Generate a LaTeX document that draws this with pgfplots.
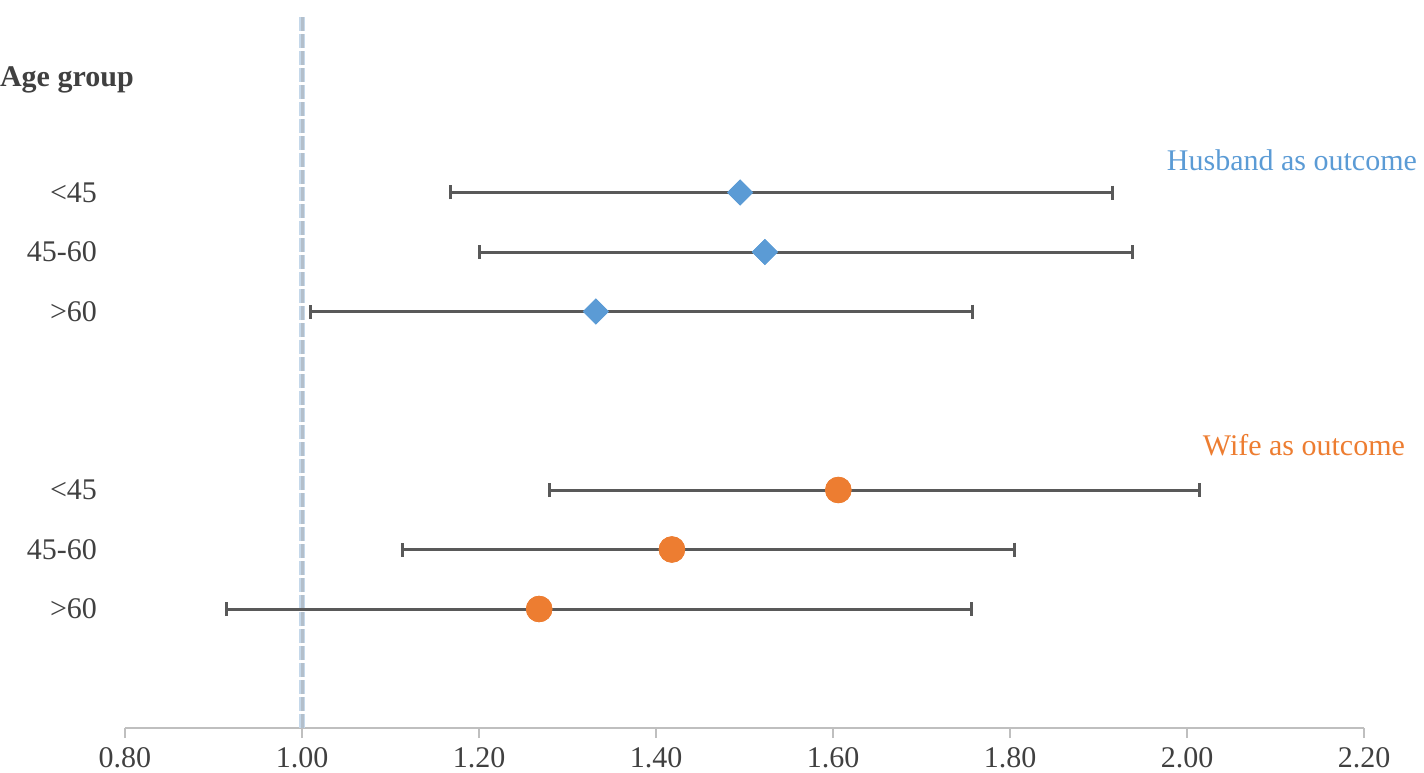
\documentclass[border=0pt]{standalone}
\usepackage{pgfplots}
\pgfplotsset{compat=1.18}
\usepackage{fontspec}
\setmainfont{Liberation Serif}
\definecolor{txt}{HTML}{404040}
\definecolor{hub}{HTML}{5B9BD5}
\definecolor{wif}{HTML}{ED7D31}
\definecolor{bar}{HTML}{595959}
\definecolor{axl}{HTML}{BFBFBF}
\definecolor{refb}{HTML}{C5D8EA}
\definecolor{refg}{HTML}{B3BFCB}
\tikzset{ylab/.style={anchor=east, text=txt, font=\fontsize{15}{18}\selectfont, xshift=-10.5pt}}
\begin{document}
\begin{tikzpicture}
\begin{axis}[
  scale only axis,
  width=619.5pt, height=357pt,
  xmin=0.8, xmax=2.2, ymin=0, ymax=12,
  axis x line*=bottom,
  axis y line=none,
  x axis line style={axl, line width=1pt, -},
  xtick={0.8,1.0,...,2.2},
  xtick style={axl, line width=1pt},
  tick align=outside,
  major tick length=5pt,
  xticklabel style={txt, font=\fontsize{15}{18}\selectfont, yshift=-1pt},
  /pgf/number format/assume math mode=true,
  xticklabel={\pgfmathprintnumber[fixed,fixed zerofill,precision=2]{\tick}},
  clip=false,
]
% reference line at 1.00
\addplot[refb, line width=3.2pt, dash pattern=on 7pt off 1.5pt] coordinates {(1,0) (1,12)};
\addplot[refg, line width=1.5pt, dash pattern=on 7pt off 1.5pt] coordinates {(1,0) (1,12)};

% Husband as outcome
\addplot[only marks, mark=square*, mark size=4.4pt, mark options={rotate=45, fill=hub, draw=hub},
  error bars/.cd, x dir=both, x explicit,
  error bar style={bar, line width=1.5pt}, error mark=|,
  error mark options={bar, line width=1.5pt, mark size=3.5pt, rotate=0}]
coordinates {
  (1.495,9) += (0.421,0) -= (0.327,0)
  (1.523,8) += (0.415,0) -= (0.323,0)
  (1.332,7) += (0.426,0) -= (0.322,0)
};
% Wife as outcome
\addplot[only marks, mark=*, mark size=6.4pt, mark options={fill=wif, draw=wif},
  error bars/.cd, x dir=both, x explicit,
  error bar style={bar, line width=1.5pt}, error mark=|,
  error mark options={bar, line width=1.5pt, mark size=3.5pt, rotate=0}]
coordinates {
  (1.606,4) += (0.408,0) -= (0.326,0)
  (1.418,3) += (0.387,0) -= (0.304,0)
  (1.268,2) += (0.488,0) -= (0.353,0)
};
% redraw markers on top of error bars
\addplot[only marks, mark=square*, mark size=4.4pt, mark options={rotate=45, fill=hub, draw=hub}]
coordinates {(1.495,9) (1.523,8) (1.332,7)};
\addplot[only marks, mark=*, mark size=6.4pt, mark options={fill=wif, draw=wif}]
coordinates {(1.606,4) (1.418,3) (1.268,2)};

% labels
\node[anchor=west, text=txt, font=\fontsize{15}{18}\selectfont\bfseries, xshift=-66pt, yshift=-3pt] at (axis cs:0.8,11) {Age group};
\node[ylab] at (axis cs:0.8,9) {<45};
\node[ylab] at (axis cs:0.8,8) {45-60};
\node[ylab] at (axis cs:0.8,7) {>60};
\node[ylab] at (axis cs:0.8,4) {<45};
\node[ylab] at (axis cs:0.8,3) {45-60};
\node[ylab] at (axis cs:0.8,2) {>60};
\node[anchor=east, text=hub, font=\fontsize{15}{18}\selectfont, xshift=30pt] at (axis cs:2.2,9.55) {Husband as outcome};
\node[anchor=east, text=wif, font=\fontsize{15}{18}\selectfont, xshift=24pt] at (axis cs:2.2,4.76) {Wife as outcome};
\end{axis}
\pgfresetboundingbox
\path ([xshift=-62.5pt, yshift=-22pt]current axis.south west) rectangle ([xshift=30pt, yshift=7pt]current axis.north east);
\end{tikzpicture}
\end{document}
